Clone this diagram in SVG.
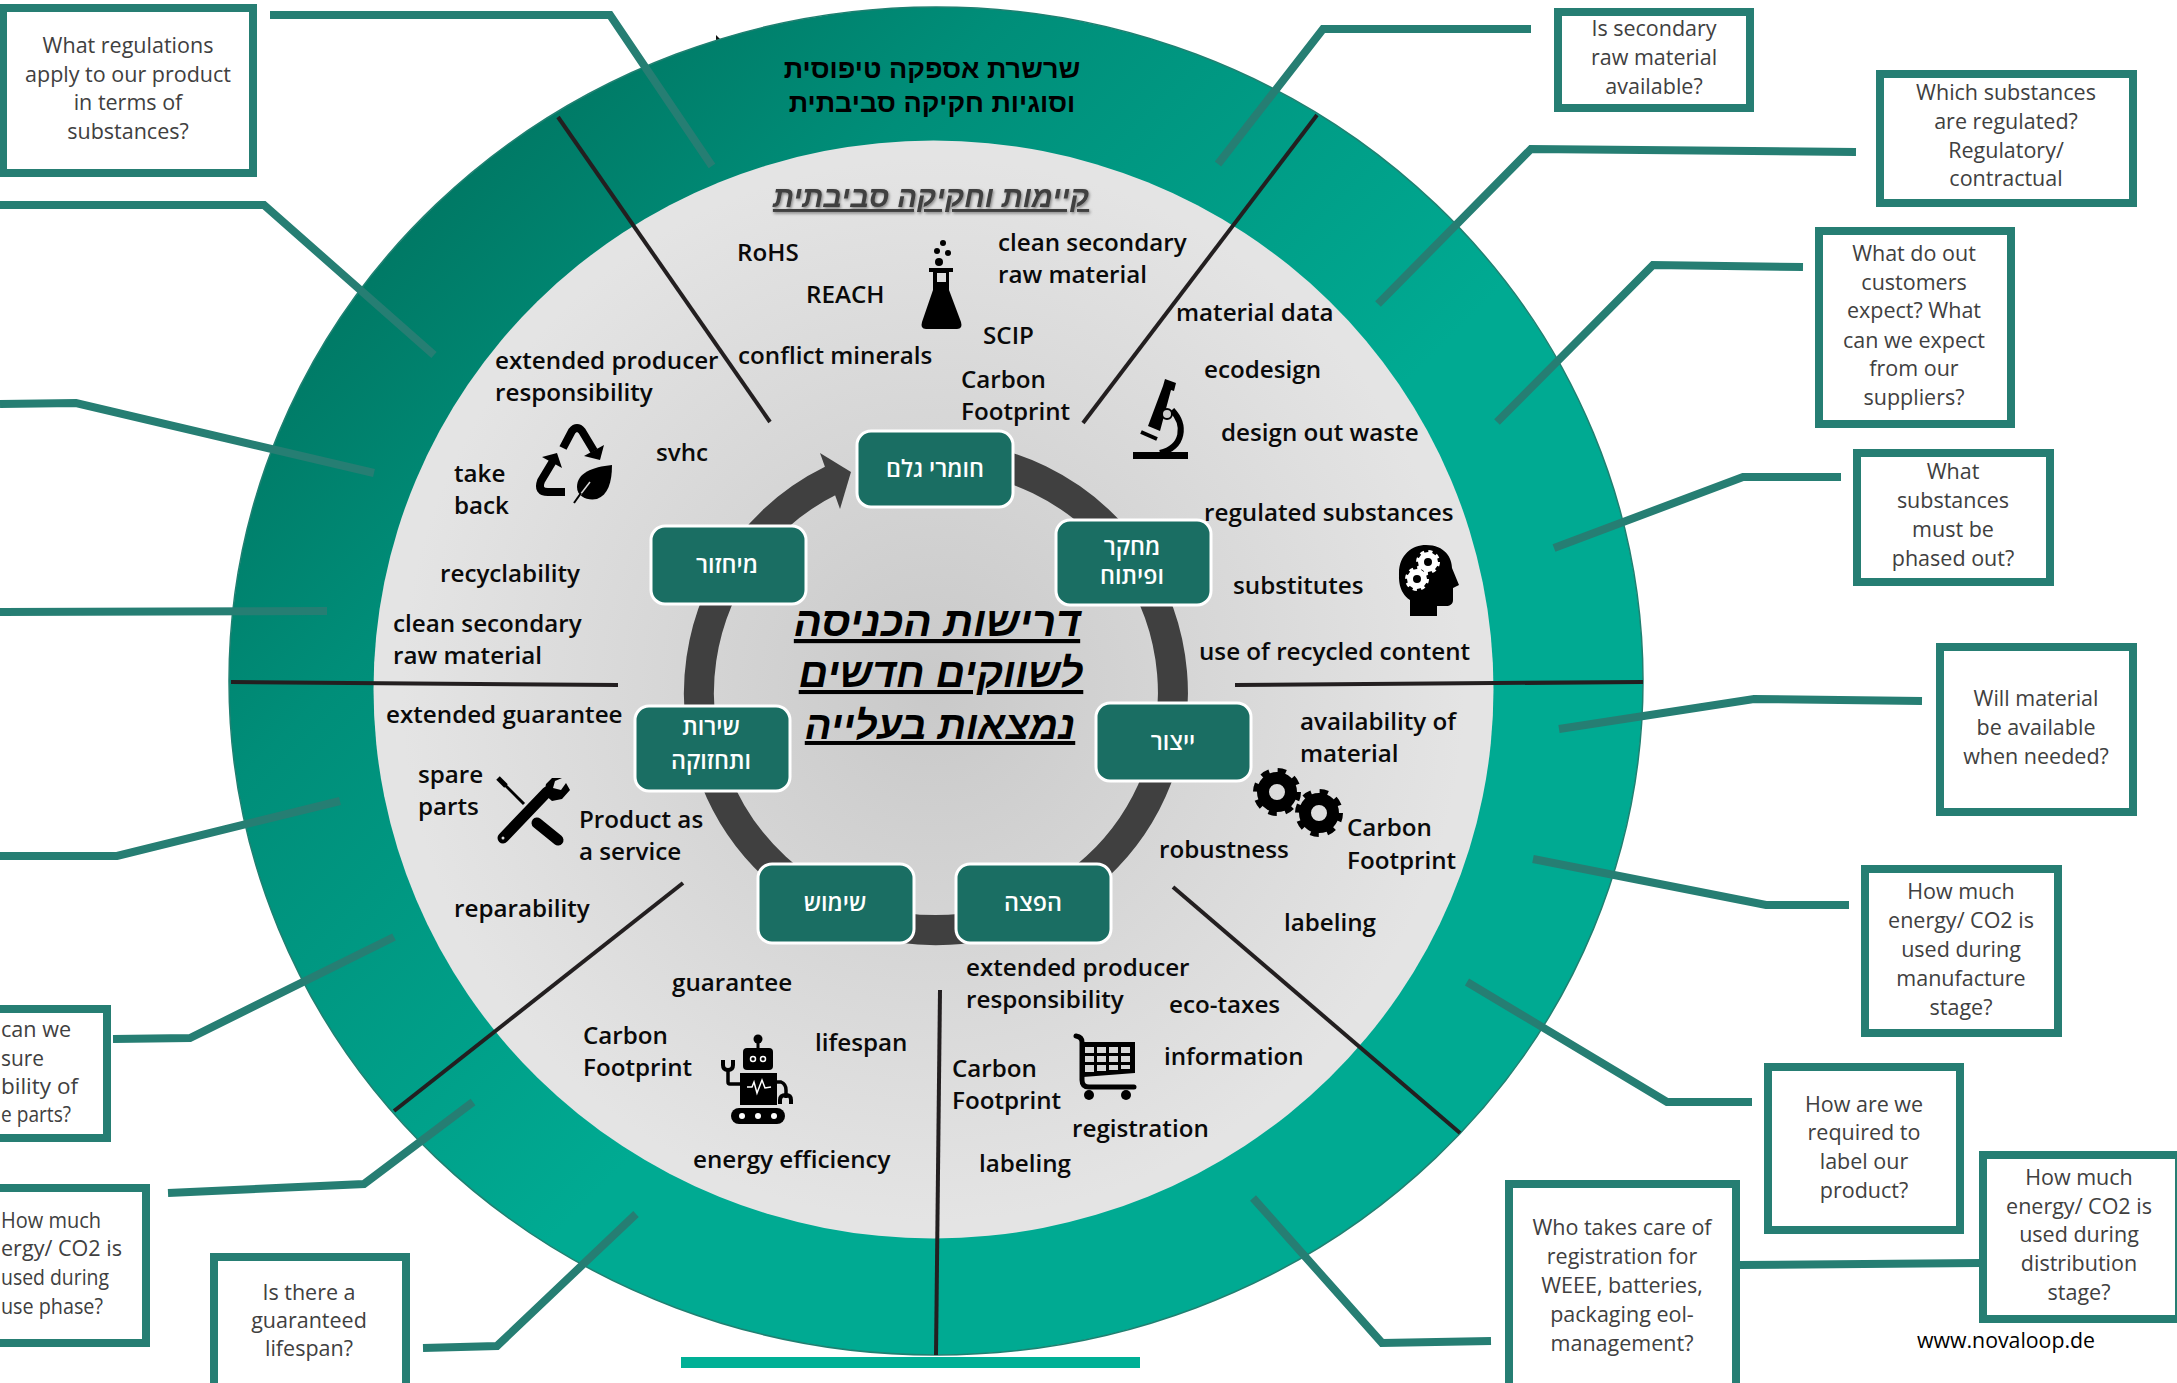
<svg xmlns="http://www.w3.org/2000/svg" width="2177" height="1383" viewBox="0 0 2177 1383">
<style>
.lb{font-family:"Open Sans","Liberation Sans",sans-serif;font-weight:600;font-size:24.2px;fill:#0a0a0a}
.bt{font-family:"Open Sans","Liberation Sans",sans-serif;font-weight:400;font-size:21.5px;fill:#404040;text-anchor:middle}
.be{font-family:"Open Sans","Liberation Sans",sans-serif;font-weight:400;font-size:21.5px;fill:#404040}
.box{fill:#fff;stroke:#267e73;stroke-width:8}
.node{fill:#1a6e63;stroke:#fff;stroke-width:3}
.nt{font-family:"Open Sans","Liberation Sans",sans-serif;font-weight:600;font-size:23.3px;fill:#fff;text-anchor:middle}
.div{fill:none;stroke:#231f20;stroke-width:4}
.con{fill:none;stroke:#267e73;stroke-width:8}
.title{font-family:"Liberation Sans",sans-serif;font-weight:700;font-style:italic;fill:#000;text-anchor:middle;text-decoration:underline}
</style>
<defs>
<linearGradient id="ringG" gradientUnits="userSpaceOnUse" x1="400" y1="200" x2="1100" y2="900">
<stop offset="0" stop-color="#007763"/><stop offset="0.3" stop-color="#008e79"/><stop offset="0.85" stop-color="#00aa92"/>
</linearGradient>
<radialGradient id="innerG" gradientUnits="userSpaceOnUse" cx="933" cy="690" r="560">
<stop offset="0" stop-color="#c9c9c9"/><stop offset="0.95" stop-color="#e4e4e4"/>
</radialGradient>
<filter id="sh" x="-5%" y="-20%" width="110%" height="140%"><feDropShadow dx="1" dy="1.5" stdDeviation="1.5" flood-color="#000" flood-opacity=".45"/></filter>
<g id="gear"><circle r="14" fill="none" stroke="#000" stroke-width="12"/><circle r="20.5" fill="none" stroke="#000" stroke-width="7" stroke-dasharray="8 8.1"/></g>
<g id="wgear"><circle r="7" fill="none" stroke="#fff" stroke-width="6"/><circle r="10.5" fill="none" stroke="#fff" stroke-width="3" stroke-dasharray="4.1 4.15"/></g>
</defs>
<rect width="2177" height="1383" fill="#fff"/>

<g id="wheel">
<polygon points="716,35 721,40 716,42" fill="#111"/>
<ellipse cx="936" cy="681" rx="707" ry="674" fill="url(#ringG)" stroke="#1f8071" stroke-width="1.5"/>
<ellipse cx="933.5" cy="689.5" rx="560" ry="549" fill="url(#innerG)"/>
<rect x="681" y="1357" width="459" height="11" fill="#00b096"/>
</g>

<g id="dividers">
<path class="div" d="M558,117 L770,422"/>
<path class="div" d="M1317,115 L1083,423"/>
<path class="div" d="M1643,682 L1235,685"/>
<path class="div" d="M231,682 L618,685"/>
<path class="div" d="M683,883 L394,1111"/>
<path class="div" d="M940,990 L936,1355"/>
<path class="div" d="M1173,887 L1460,1133"/>
</g>

<g id="cycle">
<path d="M935,456 A237,237 0 1 1 832,480" fill="none" stroke="#404040" stroke-width="30"/>
<polygon points="820,453 851,472 840,509 830,481" fill="#404040"/>
</g>

<g id="connectors">
<path class="con" d="M270,15 L610,15 L712,166"/>
<path class="con" d="M0,205 L264,205 L434,355"/>
<path class="con" d="M0,404 L76,403 L374,473"/>
<path class="con" d="M0,612 L327,611"/>
<path class="con" d="M0,856 L117,856 L340,801"/>
<path class="con" d="M113,1039 L190,1038 L394,937"/>
<path class="con" d="M168,1193 L364,1184 L473,1102"/>
<path class="con" d="M423,1348 L497,1346 L636,1214"/>
<path class="con" d="M1531,29 L1323,29 L1218,164"/>
<path class="con" d="M1856,152 L1531,149 L1378,304"/>
<path class="con" d="M1803,267 L1653,265 L1497,422"/>
<path class="con" d="M1841,477 L1743,477 L1554,548"/>
<path class="con" d="M1922,701 L1754,699 L1559,729"/>
<path class="con" d="M1849,905 L1766,905 L1533,859"/>
<path class="con" d="M1752,1102 L1667,1102 L1467,982"/>
<path class="con" d="M1491,1341 L1382,1343 L1253,1198"/>
<path class="con" d="M1739,1265 L1980,1263"/>
</g>

<g id="n-rawmaterial"><rect class="node" x="857" y="431" width="156" height="76" rx="14"/><text class="nt" x="935" y="477">חומרי גלם</text></g>
<g id="n-rnd"><rect class="node" x="1056" y="520" width="155" height="85" rx="14"/><text class="nt" x="1132" y="555">מחקר</text><text class="nt" x="1132" y="584">ופיתוח</text></g>
<g id="n-manufacture"><rect class="node" x="1096" y="703" width="155" height="78" rx="14"/><text class="nt" x="1173" y="750">ייצור</text></g>
<g id="n-distribution"><rect class="node" x="956" y="864" width="155" height="79" rx="14"/><text class="nt" x="1033" y="911">הפצה</text></g>
<g id="n-use"><rect class="node" x="758" y="864" width="156" height="79" rx="14"/><text class="nt" x="835" y="911">שימוש</text></g>
<g id="n-service"><rect class="node" x="635" y="706" width="155" height="85" rx="14"/><text class="nt" x="711" y="735">שירות</text><text class="nt" x="711" y="769">ותחזוקה</text></g>
<g id="n-recycling"><rect class="node" x="651" y="526" width="155" height="78" rx="14"/><text class="nt" x="727" y="573">מיחזור</text></g>

<g id="center-title">
<text class="title" x="937" y="636" font-size="41.7px">דרישות הכניסה</text>
<text class="title" x="941" y="687" font-size="40.7px">לשווקים חדשים</text>
<text class="title" x="940" y="739" font-size="39.7px">נמצאות בעלייה</text>
</g>
<g id="ring-title" font-family="Liberation Sans, sans-serif" font-weight="700" font-size="27px" fill="#000" text-anchor="middle">
<text x="932" y="78">שרשרת אספקה טיפוסית</text>
<text x="932" y="112">וסוגיות חקיקה סביבתית</text>
</g>
<text x="931" y="207" font-family="Liberation Sans, sans-serif" font-weight="700" font-style="italic" font-size="29.3px" fill="#404040" text-anchor="middle" text-decoration="underline" filter="url(#sh)">קיימות וחקיקה סביבתית</text>

<g id="labels">
<text class="lb" x="737" y="261">RoHS</text>
<text class="lb" x="806" y="303">REACH</text>
<text class="lb" x="998" y="251">clean secondary</text>
<text class="lb" x="998" y="283">raw material</text>
<text class="lb" x="738" y="364">conflict minerals</text>
<text class="lb" x="983" y="344">SCIP</text>
<text class="lb" x="961" y="388">Carbon</text>
<text class="lb" x="961" y="420">Footprint</text>
<text class="lb" x="1176" y="321">material data</text>
<text class="lb" x="1204" y="378">ecodesign</text>
<text class="lb" x="1221" y="441">design out waste</text>
<text class="lb" x="1204" y="521">regulated substances</text>
<text class="lb" x="1233" y="594">substitutes</text>
<text class="lb" x="1199" y="660">use of recycled content</text>
<text class="lb" x="1300" y="730">availability of</text>
<text class="lb" x="1300" y="762">material</text>
<text class="lb" x="1347" y="836">Carbon</text>
<text class="lb" x="1347" y="869">Footprint</text>
<text class="lb" x="1159" y="858">robustness</text>
<text class="lb" x="1284" y="931">labeling</text>
<text class="lb" x="966" y="976">extended producer</text>
<text class="lb" x="966" y="1008">responsibility</text>
<text class="lb" x="1169" y="1013">eco-taxes</text>
<text class="lb" x="1164" y="1065">information</text>
<text class="lb" x="1072" y="1137">registration</text>
<text class="lb" x="952" y="1077">Carbon</text>
<text class="lb" x="952" y="1109">Footprint</text>
<text class="lb" x="979" y="1172">labeling</text>
<text class="lb" x="672" y="991">guarantee</text>
<text class="lb" x="583" y="1044">Carbon</text>
<text class="lb" x="583" y="1076">Footprint</text>
<text class="lb" x="815" y="1051">lifespan</text>
<text class="lb" x="693" y="1168">energy efficiency</text>
<text class="lb" x="454" y="917">reparability</text>
<text class="lb" x="579" y="828">Product as</text>
<text class="lb" x="579" y="860">a service</text>
<text class="lb" x="418" y="783">spare</text>
<text class="lb" x="418" y="815">parts</text>
<text class="lb" x="386" y="723">extended guarantee</text>
<text class="lb" x="393" y="632">clean secondary</text>
<text class="lb" x="393" y="664">raw material</text>
<text class="lb" x="440" y="582">recyclability</text>
<text class="lb" x="454" y="482">take</text>
<text class="lb" x="454" y="514">back</text>
<text class="lb" x="656" y="461">svhc</text>
<text class="lb" x="495" y="369">extended producer</text>
<text class="lb" x="495" y="401">responsibility</text>
</g>

<g id="icon-flask" fill="#000">
<circle cx="943" cy="243" r="3"/><circle cx="937" cy="251" r="3"/><circle cx="948" cy="253" r="3"/><circle cx="939" cy="262" r="4"/>
<path d="M929,268 H953 V272 H949 V290 L961,322 Q963,329 957,329 H926 Q920,329 922,322 L933,290 V272 H929 Z"/>
<rect x="937" y="273" width="9" height="9" fill="#ddd"/>
</g>
<g id="icon-microscope">
<rect x="1133" y="452" width="55" height="7"/>
<path d="M1165,379 L1176,383 L1174,391 L1171,390 L1160,431 L1148,426 L1163,386 Z"/>
<path d="M1172,410 C1186,425 1184,447 1160,453" fill="none" stroke="#000" stroke-width="6"/>
<circle cx="1167" cy="414" r="5" fill="#ccc" stroke="#000" stroke-width="2"/>
<path d="M1141,432 L1157,439" stroke="#000" stroke-width="4"/>
</g>
<g id="icon-head">
<path d="M1410,616 L1410,600 C1398,592 1399,578 1399,573 C1399,555 1412,545 1426,545 C1445,545 1452,558 1452,568 L1459,585 L1453,588 L1453,600 C1453,604 1450,606 1446,606 L1437,606 L1437,616 Z"/>
<use href="#wgear" x="1428" y="562"/><use href="#wgear" x="1417" y="579"/>
</g>
<g id="icon-gears"><use href="#gear" x="1277" y="792"/><use href="#gear" x="1319" y="813"/></g>
<g id="icon-cart">
<path d="M1076,1036 Q1082,1037 1082,1042 V1080 Q1082,1087 1089,1087 H1134" fill="none" stroke="#000" stroke-width="5" stroke-linecap="round"/>
<polygon points="1082,1042 1135,1042 1135,1073 1083,1077"/>
<g fill="#d8d8d8">
<rect x="1085" y="1047" width="9" height="6"/><rect x="1097" y="1047" width="9" height="6"/><rect x="1109" y="1047" width="9" height="6"/><rect x="1121" y="1047" width="9" height="6"/>
<rect x="1085" y="1056" width="9" height="6"/><rect x="1097" y="1056" width="9" height="6"/><rect x="1109" y="1056" width="9" height="6"/><rect x="1121" y="1056" width="9" height="6"/>
<rect x="1085" y="1065" width="9" height="7"/><rect x="1097" y="1065" width="9" height="6"/><rect x="1109" y="1065" width="9" height="5"/><rect x="1121" y="1065" width="9" height="4"/>
</g>
<circle cx="1089" cy="1095" r="5"/><circle cx="1126" cy="1095" r="5"/>
</g>
<g id="icon-robot">
<circle cx="758" cy="1039" r="4.5"/><rect x="756.5" y="1040" width="3" height="9"/>
<rect x="743" y="1048" width="30" height="22" rx="4"/>
<circle cx="753" cy="1059" r="2.5" fill="none" stroke="#fff" stroke-width="1.5"/><circle cx="763" cy="1059" r="2.5" fill="none" stroke="#fff" stroke-width="1.5"/>
<rect x="740" y="1073" width="37" height="32"/>
<path d="M747,1087 H752 L754,1082 L757,1093 L762,1080 L765,1088 L771,1087" fill="none" stroke="#fff" stroke-width="1.5"/>
<path d="M740,1084 H730 Q728,1084 728,1082 V1068" fill="none" stroke="#000" stroke-width="3.5"/>
<path d="M723,1060 V1065 Q723,1070 728,1070 Q733,1070 733,1065 V1060" fill="none" stroke="#000" stroke-width="4"/>
<path d="M777,1082 H781 Q786,1084 786,1090 V1098" fill="none" stroke="#000" stroke-width="3.5"/>
<path d="M780,1104 V1100 Q780,1095 786,1095 Q791,1095 791,1100 V1104" fill="none" stroke="#000" stroke-width="4"/>
<rect x="731" y="1108" width="54" height="16" rx="8"/>
<circle cx="742" cy="1116" r="3" fill="#fff"/><circle cx="758" cy="1116" r="3" fill="#fff"/><circle cx="774" cy="1116" r="3" fill="#fff"/>
</g>
<g id="icon-tools">
<path d="M499,779 L524,804" stroke="#000" stroke-width="3"/><path d="M498,778 L506,786" stroke="#000" stroke-width="5"/>
<path d="M537,823 L558,840" stroke="#000" stroke-width="11" stroke-linecap="round"/>
<path d="M503,838 L547,792" stroke="#000" stroke-width="11" stroke-linecap="round"/>
<path d="M552,778 L546,784 L544,794 L552,801 L562,799 L570,790 L566,783 L561,790 L553,788 L555,781 L562,778 Z"/>
<circle cx="503" cy="838" r="1.5" fill="#ddd"/>
</g>
<g id="icon-recycle">
<path d="M563,448 L572,431 Q577,425 582,431 L594,451" fill="none" stroke="#000" stroke-width="8"/>
<polygon points="604,445 600,460 584,456"/>
<polygon points="542,457 557,453 562,468"/>
<path d="M553,461 L541,481 Q537,492 548,492 L565,492" fill="none" stroke="#000" stroke-width="8"/>
<path d="M612,465 C592,467 577,473 577,487 C577,497 588,501 597,499 C608,495 612,482 612,465 Z"/>
<path d="M590,482 L580,495" stroke="#d8d8d8" stroke-width="1.5"/><path d="M581,493 L574,503" stroke="#000" stroke-width="2"/>
</g>

<g id="q-regulations"><rect class="box" x="3" y="8" width="250" height="165"/>
<text class="bt"><tspan x="128" y="53">What regulations</tspan><tspan x="128" y="82">apply to our product</tspan><tspan x="128" y="110">in terms of</tspan><tspan x="128" y="139">substances?</tspan></text></g>
<g id="q-secondary"><rect class="box" x="1558" y="12" width="192" height="96"/>
<text class="bt"><tspan x="1654" y="36">Is secondary</tspan><tspan x="1654" y="65">raw material</tspan><tspan x="1654" y="94">available?</tspan></text></g>
<g id="q-which"><rect class="box" x="1880" y="74" width="253" height="129"/>
<text class="bt"><tspan x="2006" y="100">Which substances</tspan><tspan x="2006" y="129">are regulated?</tspan><tspan x="2006" y="158">Regulatory/</tspan><tspan x="2006" y="186">contractual</tspan></text></g>
<g id="q-customers"><rect class="box" x="1819" y="231" width="192" height="193"/>
<text class="bt"><tspan x="1914" y="261">What do out</tspan><tspan x="1914" y="290">customers</tspan><tspan x="1914" y="318">expect? What</tspan><tspan x="1914" y="348">can we expect</tspan><tspan x="1914" y="376">from our</tspan><tspan x="1914" y="405">suppliers?</tspan></text></g>
<g id="q-phased"><rect class="box" x="1857" y="453" width="193" height="129"/>
<text class="bt"><tspan x="1953" y="479">What</tspan><tspan x="1953" y="508">substances</tspan><tspan x="1953" y="537">must be</tspan><tspan x="1953" y="566">phased out?</tspan></text></g>
<g id="q-available"><rect class="box" x="1940" y="647" width="193" height="165"/>
<text class="bt"><tspan x="2036" y="706">Will material</tspan><tspan x="2036" y="735">be available</tspan><tspan x="2036" y="764">when needed?</tspan></text></g>
<g id="q-manufacture"><rect class="box" x="1865" y="869" width="193" height="164"/>
<text class="bt"><tspan x="1961" y="899">How much</tspan><tspan x="1961" y="928">energy/ CO2 is</tspan><tspan x="1961" y="957">used during</tspan><tspan x="1961" y="986">manufacture</tspan><tspan x="1961" y="1015">stage?</tspan></text></g>
<g id="q-label"><rect class="box" x="1768" y="1067" width="192" height="163"/>
<text class="bt"><tspan x="1864" y="1112">How are we</tspan><tspan x="1864" y="1140">required to</tspan><tspan x="1864" y="1169">label our</tspan><tspan x="1864" y="1198">product?</tspan></text></g>
<g id="q-distribution"><rect class="box" x="1983" y="1155" width="196" height="164"/>
<text class="bt"><tspan x="2079" y="1185">How much</tspan><tspan x="2079" y="1214">energy/ CO2 is</tspan><tspan x="2079" y="1242">used during</tspan><tspan x="2079" y="1271">distribution</tspan><tspan x="2079" y="1300">stage?</tspan></text></g>
<g id="q-registration"><rect class="box" x="1509" y="1184" width="227" height="206"/>
<text class="bt"><tspan x="1622" y="1235">Who takes care of</tspan><tspan x="1622" y="1264">registration for</tspan><tspan x="1622" y="1293">WEEE, batteries,</tspan><tspan x="1622" y="1322">packaging eol-</tspan><tspan x="1622" y="1351">management?</tspan></text></g>
<g id="q-spare"><rect class="box" x="-20" y="1009" width="127" height="129"/>
<text class="be" x="1" y="1037" textLength="70" lengthAdjust="spacingAndGlyphs">can we</text>
<text class="be" x="1" y="1066" textLength="43" lengthAdjust="spacingAndGlyphs">sure</text>
<text class="be" x="1" y="1094" textLength="77" lengthAdjust="spacingAndGlyphs">bility of</text>
<text class="be" x="1" y="1122" textLength="70" lengthAdjust="spacingAndGlyphs">e parts?</text></g>
<g id="q-use"><rect class="box" x="-20" y="1188" width="166" height="155"/>
<text class="be" x="1" y="1228" textLength="100" lengthAdjust="spacingAndGlyphs">How much</text>
<text class="be" x="1" y="1256" textLength="121" lengthAdjust="spacingAndGlyphs">ergy/ CO2 is</text>
<text class="be" x="1" y="1285" textLength="108" lengthAdjust="spacingAndGlyphs">used during</text>
<text class="be" x="1" y="1314" textLength="102" lengthAdjust="spacingAndGlyphs">use phase?</text></g>
<g id="q-lifespan"><rect class="box" x="214" y="1257" width="192" height="140"/>
<text class="bt"><tspan x="309" y="1300">Is there a</tspan><tspan x="309" y="1328">guaranteed</tspan><tspan x="309" y="1356">lifespan?</tspan></text></g>

<text x="2006" y="1348" font-family="Open Sans, sans-serif" font-size="21.3px" fill="#000" text-anchor="middle">www.novaloop.de</text>
</svg>
